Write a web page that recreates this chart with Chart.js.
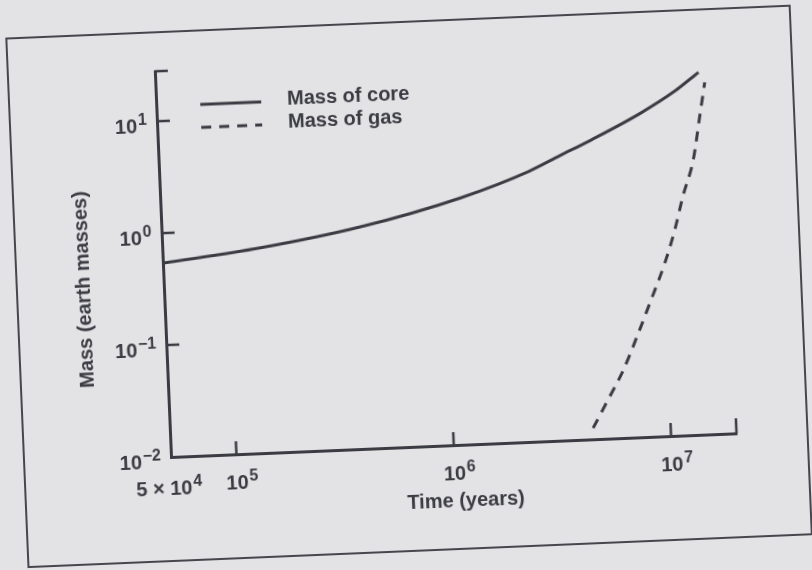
<!DOCTYPE html>
<html>
<head>
<meta charset="utf-8">
<script src="https://cdn.jsdelivr.net/npm/chart.js@4.4.0/dist/chart.umd.min.js"></script>
<style>
  html, body { margin: 0; padding: 0; background: #e3e3e5; overflow: hidden; }
  /* the printed figure sits slightly tilted on the scan */
  #wrap { position: absolute; left: 0; top: 0; width: 812px; height: 570px;
          transform: rotate(-2.4deg); transform-origin: 171px 457px; }
</style>
</head>
<body>
<div id="wrap"><canvas id="massChart" width="812" height="570"></canvas></div>
<script>
// values
const coreTime = [5e4, 1.41e5, 4.1e5, 1.2e6, 2.5e6, 3.5e6, 4.9e6, 8.4e6, 1.21e7, 1.57e7];
const coreMass = [0.54, 0.68, 0.96, 1.6, 2.6, 3.5, 4.7, 7.85, 11.9, 17.2];
const gasTime = [4.4e6, 5.2e6, 6.2e6, 7.4e6, 8.6e6, 1.01e7, 1.14e7, 1.26e7, 1.43e7, 1.56e7, 1.67e7];
const gasMass = [0.0126, 0.022, 0.04, 0.085, 0.167, 0.35, 0.69, 1.36, 2.87, 6.95, 13.9];

const xTicks = [5e4, 1e5, 1e6, 1e7];
const xTickLabels = ['5 × 10^4', '10^5', '10^6', '10^7'];
const yTicks = [0.01, 0.1, 1, 10];
const yTickLabels = ['10^−2', '10^−1', '10^0', '10^1'];

const ink = '#3b3b43';
const font = size => `bold ${size}px "Liberation Sans", Arial, sans-serif`;

// "10" plus a raised exponent
function drawPower(ctx, label, x, y, align) {
    const [base, exp] = label.split('^');
    ctx.font = font(20);
    const wb = ctx.measureText(base).width;
    ctx.font = font(16);
    const we = ctx.measureText(exp).width + 1;
    let x0;
    if (align === 'right') x0 = x - wb - we;
    else if (align === 'base') x0 = x - wb / 2;
    else x0 = x - (wb + we) / 2;
    ctx.font = font(20);
    ctx.fillText(base, x0, y);
    ctx.font = font(16);
    ctx.fillText(exp, x0 + wb + 1, y - 8);
}

const figurePlugin = {
    id: 'figure',
    beforeDraw(chart) {
        const ctx = chart.ctx;
        ctx.save();
        ctx.strokeStyle = '#46464d';
        ctx.lineWidth = 2;
        ctx.strokeRect(24, 32, 784, 529);
        ctx.restore();
    },
    afterDraw(chart) {
        const ctx = chart.ctx;
        const xs = chart.scales.x, ys = chart.scales.y;
        const { left, right, top, bottom } = chart.chartArea;
        ctx.save();
        ctx.strokeStyle = ink;
        ctx.fillStyle = ink;
        ctx.lineWidth = 2.5;
        ctx.textAlign = 'left';
        ctx.textBaseline = 'alphabetic';

        // inward tick marks and end caps
        ctx.beginPath();
        xTicks.slice(1).forEach(v => {
            const px = xs.getPixelForValue(v);
            ctx.moveTo(px, bottom); ctx.lineTo(px, bottom - 13);
        });
        ctx.moveTo(right, bottom); ctx.lineTo(right, bottom - 15);
        yTicks.slice(1).forEach(v => {
            const py = ys.getPixelForValue(v);
            ctx.moveTo(left, py); ctx.lineTo(left + 13, py);
        });
        ctx.moveTo(left, top); ctx.lineTo(left + 13, top);
        ctx.stroke();

        // tick labels
        xTicks.forEach((v, i) => {
            const px = xs.getPixelForValue(v);
            if (i === 0) drawPower(ctx, xTickLabels[i], px - 3, bottom + 38, 'center');
            else drawPower(ctx, xTickLabels[i], px, bottom + 35, 'base');
        });
        yTicks.forEach((v, i) => {
            drawPower(ctx, yTickLabels[i], left - 10, ys.getPixelForValue(v) + 11, 'right');
        });

        // axis titles
        ctx.font = font(20);
        ctx.textAlign = 'center';
        ctx.fillText('Time (years)', 464, bottom + 62);
        ctx.save();
        ctx.translate(97, 286);
        ctx.rotate(-Math.PI / 2);
        ctx.fillText('Mass (earth masses)', 0, 0);
        ctx.restore();

        // legend
        ctx.textAlign = 'left';
        chart.data.datasets.forEach((ds, i) => {
            const ly = top + 35 + i * 23;
            ctx.save();
            ctx.lineWidth = ds.borderWidth;
            ctx.setLineDash(ds.borderDash || []);
            ctx.beginPath();
            ctx.moveTo(left + 44, ly);
            ctx.lineTo(left + 105, ly);
            ctx.stroke();
            ctx.restore();
            ctx.font = font(20);
            ctx.fillText(ds.label, left + 131, ly + 4);
        });
        ctx.restore();
    }
};

const axisCommon = {
    type: 'logarithmic',
    grid: { display: false, drawTicks: false },
    border: { display: true, color: ink, width: 3 },
    ticks: { display: false }
};

new Chart(document.getElementById('massChart'), {
    type: 'line',
    data: {
        datasets: [
            {
                label: 'Mass of core',
                data: coreTime.map((t, i) => ({ x: t, y: coreMass[i] })),
                borderColor: ink,
                borderWidth: 3,
                pointRadius: 0,
                cubicInterpolationMode: 'monotone',
                fill: false
            },
            {
                label: 'Mass of gas',
                data: gasTime.map((t, i) => ({ x: t, y: gasMass[i] })),
                borderColor: ink,
                borderWidth: 3,
                borderDash: [10, 8],
                pointRadius: 0,
                cubicInterpolationMode: 'monotone',
                fill: false
            }
        ]
    },
    options: {
        responsive: false,
        animation: false,
        devicePixelRatio: 1,
        layout: { padding: { left: 171, top: 71, right: 75, bottom: 113 } },
        plugins: { legend: { display: false }, tooltip: { enabled: false } },
        scales: {
            x: {
                ...axisCommon,
                position: 'bottom',
                min: 5e4,
                max: 2e7,
                afterBuildTicks: s => { s.ticks = xTicks.map(v => ({ value: v })); },
                afterFit: s => { s.height = 0; }
            },
            y: {
                ...axisCommon,
                position: 'left',
                min: 0.01,
                max: 28,
                afterBuildTicks: s => { s.ticks = yTicks.map(v => ({ value: v })); },
                afterFit: s => { s.width = 0; }
            }
        }
    },
    plugins: [figurePlugin]
});
</script>
</body>
</html>
